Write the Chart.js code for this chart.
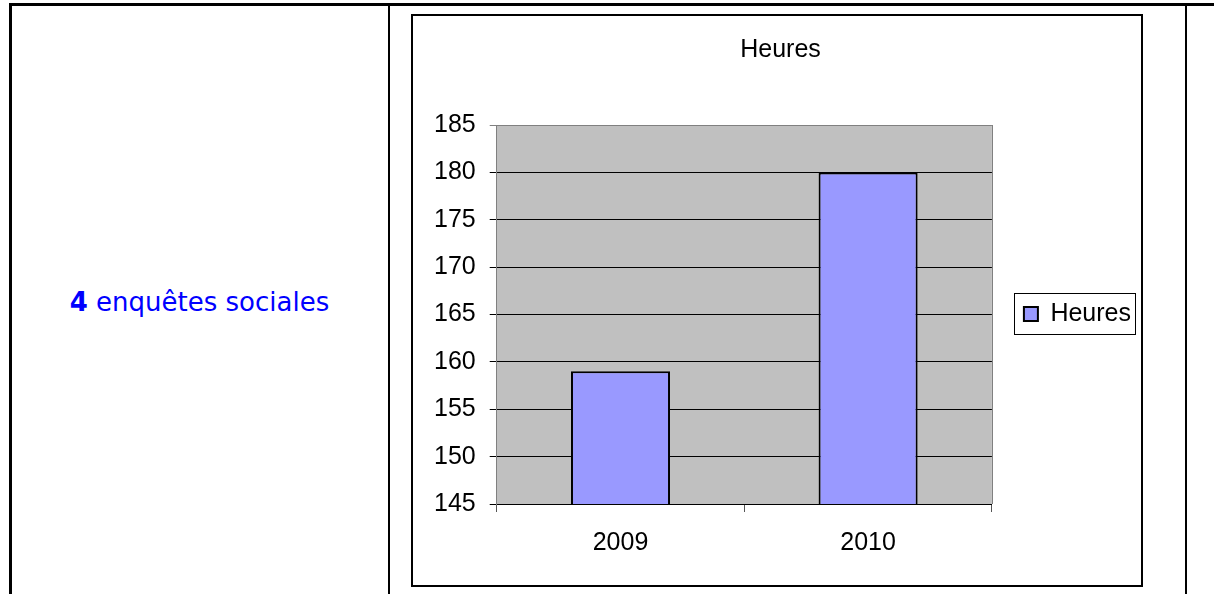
<!DOCTYPE html>
<html lang="fr">
<head>
<meta charset="utf-8">
<title>Heures</title>
<script src="https://cdn.jsdelivr.net/npm/chart.js@4/dist/chart.umd.min.js"></script>
<style>
  html, body { margin: 0; padding: 0; background: #fff; }
  body { width: 1214px; height: 594px; position: relative; overflow: hidden; }
  .rule { position: absolute; background: #000; }
  .label-cell {
      position: absolute; left: 11px; top: 6px; width: 377px; height: 592px;
      display: flex; align-items: center; justify-content: center;
      font-family: 'DejaVu Sans', Verdana, sans-serif; font-size: 26px; color: #0000ff;
  }
  .chart-box {
      position: absolute; left: 411px; top: 14px; width: 728px; height: 569px;
      border: 2px solid #000; background: #fff;
  }
</style>
</head>
<body>
<!-- lignes du tableau -->
<div class="rule" style="left:9px; top:3px; width:1205px; height:3px;"></div>
<div class="rule" style="left:9px; top:3px; width:3px; height:591px;"></div>
<div class="rule" style="left:388px; top:3px; width:2px; height:591px;"></div>
<div class="rule" style="left:1185px; top:3px; width:2px; height:591px;"></div>

<div class="label-cell"><span><b>4</b> enquêtes sociales</span></div>

<div class="chart-box">
    <canvas id="heuresChart" width="728" height="569"></canvas>
</div>

<script>
/* données */
const categories = ['2009', '2010'];
const heures     = [159, 180];
const yTickValues = [145, 150, 155, 160, 165, 170, 175, 180, 185];

const Y_MIN = yTickValues[0];
const Y_MAX = yTickValues[yTickValues.length - 1];

Chart.defaults.font.family = "'Liberation Sans', Arial, sans-serif";
Chart.defaults.font.size = 25;
Chart.defaults.color = '#000';

// fond gris de la zone de tracé + bord droit
const plotArea = {
    id: 'plotArea',
    beforeDraw(chart) {
        const { ctx, chartArea: a } = chart;
        ctx.save();
        ctx.fillStyle = '#c0c0c0';
        ctx.fillRect(a.left, a.top, a.right - a.left, a.bottom - a.top);
        ctx.restore();
    },
    afterDatasetsDraw(chart) {
        const { ctx, chartArea: a } = chart;
        ctx.save();
        ctx.strokeStyle = '#808080';
        ctx.lineWidth = 1;
        ctx.beginPath();
        ctx.moveTo(Math.round(a.right) + 0.5, a.top);
        ctx.lineTo(Math.round(a.right) + 0.5, a.bottom);
        ctx.stroke();
        ctx.restore();
    }
};

// légende : décalage vertical + cadre
const LEGEND_SHIFT = 19;
const legendFrame = {
    id: 'legendFrame',
    afterLayout(chart) {
        const lg = chart.legend;
        if (!lg) return;
        lg.top += LEGEND_SHIFT;
        lg.bottom += LEGEND_SHIFT;
    },
    afterDraw(chart) {
        const lg = chart.legend;
        if (!lg || !lg.legendHitBoxes || !lg.legendHitBoxes.length) return;
        const hb = lg.legendHitBoxes[0];
        const { ctx } = chart;
        const x = Math.round(hb.left - 10) + 0.5;
        const w = Math.round(hb.width + 14);
        const cy = hb.top + hb.height / 2;
        const y = Math.round(cy - 21) + 0.5;
        ctx.save();
        ctx.strokeStyle = '#000';
        ctx.lineWidth = 1;
        ctx.strokeRect(x, y, w, 41);
        ctx.restore();
    }
};

new Chart(document.getElementById('heuresChart'), {
    type: 'bar',
    data: {
        labels: categories,
        datasets: [{
            label: 'Heures',
            data: heures,
            backgroundColor: '#9999ff',
            borderColor: '#000',
            borderWidth: 2,
            borderSkipped: false,
            categoryPercentage: 0.4,
            barPercentage: 1
        }]
    },
    options: {
        responsive: false,
        animation: false,
        devicePixelRatio: 1,
        layout: { padding: { left: 7, right: 0, top: 0, bottom: 11 } },
        plugins: {
            title: {
                display: true,
                text: 'Heures',
                color: '#000',
                font: { size: 25, weight: 'normal' },
                padding: { top: 19, bottom: 60 }
            },
            legend: {
                position: 'right',
                labels: {
                    boxWidth: 14,
                    boxHeight: 14,
                    padding: 32,
                    color: '#000',
                    font: { size: 25 }
                }
            },
            tooltip: { enabled: false }
        },
        scales: {
            x: {
                grid: {
                    drawOnChartArea: false,
                    drawTicks: true,
                    tickLength: 8,
                    color: '#555'
                },
                border: { color: '#000' },
                ticks: { padding: 16, color: '#000' }
            },
            y: {
                min: Y_MIN,
                max: Y_MAX,
                afterBuildTicks: (scale) => {
                    scale.ticks = yTickValues.map(v => ({ value: v }));
                },
                grid: {
                    color: (c) => (c.tick && c.tick.value === Y_MAX) ? '#808080' : '#000',
                    lineWidth: 1,
                    tickLength: 7
                },
                border: { color: '#808080' },
                ticks: { padding: 14, color: '#000' }
            }
        }
    },
    plugins: [plotArea, legendFrame]
});
</script>
</body>
</html>
